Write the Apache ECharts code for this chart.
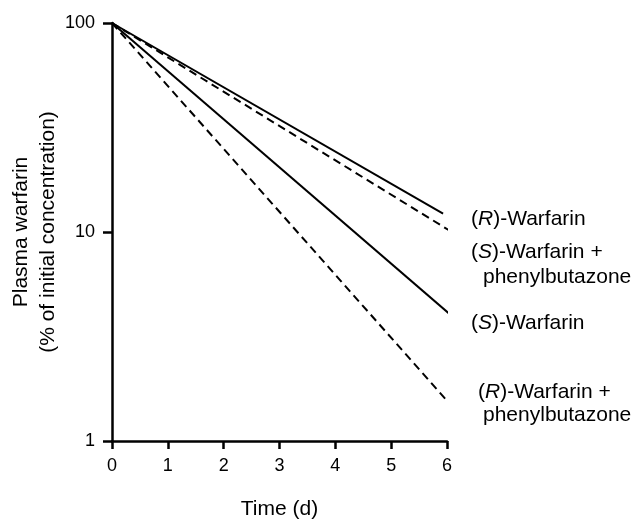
<!DOCTYPE html>
<html>
<head>
<meta charset="utf-8">
<script src="https://cdn.jsdelivr.net/npm/echarts@6/dist/echarts.min.js"></script>
<style>
  html, body { margin: 0; padding: 0; background: #fff; }
  #chart { width: 635px; height: 521px; }
</style>
</head>
<body>
<div id="chart"></div>
<script>
// time (d) and plasma level (% of initial) at start and end of each line
const rWarfarin = [[0, 100], [5.93, 12.25]]
const sWarfarinPhenyl = [[0, 100], [6.14, 9.8]]
const sWarfarin = [[0, 100], [6.09, 3.96]]
const rWarfarinPhenyl = [[0, 100], [5.99, 1.57]]

const xTicks = [0, 1, 2, 3, 4, 5, 6]
const yTicks = [1, 10, 100]

const FONT = '"Liberation Sans", Arial, Helvetica, sans-serif'
const chart = echarts.init(document.getElementById('chart'))

function lineSeries(name, data, dashed) {
  return {
    name: name,
    type: 'line',
    data: data,
    symbol: 'none',
    clip: false,
    animation: false,
    lineStyle: {
      color: '#000',
      width: 2,
      type: dashed ? [8, 5] : 'solid'
    }
  }
}

function label(text, x, y) {
  return {
    type: 'text',
    x: x,
    y: y,
    style: {
      text: text,
      fill: '#000',
      font: '21px ' + FONT,
      verticalAlign: 'middle',
      rich: {
        i: { fontStyle: 'italic', fontSize: 21, fontFamily: FONT, fill: '#000' }
      }
    }
  }
}

chart.setOption({
  backgroundColor: '#fff',
  animation: false,
  grid: {
    left: 112,
    right: 188,
    top: 23,
    bottom: 80,
    outerBoundsMode: 'none'
  },
  xAxis: {
    type: 'value',
    min: xTicks[0],
    max: xTicks[xTicks.length - 1],
    interval: 1,
    name: 'Time (d)',
    nameLocation: 'middle',
    nameGap: 58,
    nameMoveOverlap: false,
    nameTextStyle: { color: '#000', fontSize: 21, fontFamily: FONT },
    axisLine: { lineStyle: { color: '#000', width: 2.5 } },
    axisTick: { inside: false, length: 8, lineStyle: { color: '#000', width: 2.5 } },
    axisLabel: { color: '#000', fontSize: 18, fontFamily: FONT, margin: 16 },
    splitLine: { show: false }
  },
  yAxis: {
    type: 'log',
    logBase: 10,
    min: yTicks[0],
    max: yTicks[yTicks.length - 1],
    name: 'Plasma warfarin\n(% of initial concentration)',
    nameLocation: 'middle',
    nameGap: 50,
    nameMoveOverlap: false,
    nameTextStyle: { color: '#000', fontSize: 21, fontFamily: FONT, lineHeight: 27 },
    axisLine: { show: true, lineStyle: { color: '#000', width: 2.5 } },
    axisTick: { show: true, length: 9, lineStyle: { color: '#000', width: 2.5 } },
    axisLabel: { color: '#000', fontSize: 18, fontFamily: FONT, margin: 17 },
    minorTick: { show: false },
    splitLine: { show: false }
  },
  series: [
    lineSeries('(R)-Warfarin', rWarfarin, false),
    lineSeries('(S)-Warfarin + phenylbutazone', sWarfarinPhenyl, true),
    lineSeries('(S)-Warfarin', sWarfarin, false),
    lineSeries('(R)-Warfarin + phenylbutazone', rWarfarinPhenyl, true)
  ],
  graphic: [
    label('({i|R})-Warfarin', 471, 219),
    label('({i|S})-Warfarin +', 471, 252),
    label('phenylbutazone', 483, 277),
    label('({i|S})-Warfarin', 471, 323),
    label('({i|R})-Warfarin +', 478, 392),
    label('phenylbutazone', 483, 415)
  ]
})
</script>
</body>
</html>
